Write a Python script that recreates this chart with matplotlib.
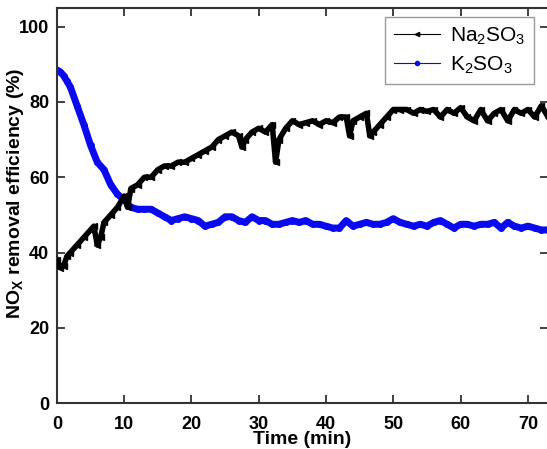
import numpy as np
from matplotlib import pyplot as plt
from matplotlib.lines import Line2D

plt.rcParams['font.family'] = ['Liberation Sans', 'DejaVu Sans']
plt.rcParams['mathtext.fontset'] = 'custom'
plt.rcParams['mathtext.rm'] = 'Liberation Sans'
plt.rcParams['mathtext.bf'] = 'Liberation Sans:bold'

# K2SO3 series (time in min, efficiency in %)
t_k = [0, 0.5, 1, 1.5, 2, 3, 4, 5, 6, 7, 8, 9, 10, 11, 12, 13, 14, 15, 16, 17,
       18, 19, 20, 21, 22, 23, 24, 25, 26, 27, 28, 29, 30, 31, 32, 33, 34, 35,
       36, 37, 38, 39, 40, 41, 42, 43, 44, 45, 46, 47, 48, 49, 50, 51, 52, 53,
       54, 55, 56, 57, 58, 59, 60, 61, 62, 63, 64, 65, 66, 67, 68, 69, 70, 71,
       72, 73]
k2so3 = [88.5, 88, 87, 85.5, 84, 79, 74, 68.5, 64, 62, 58, 55.5, 54, 52, 51.5,
         51.5, 51.5, 50.5, 49.5, 48.5, 49, 49.5, 49, 48.5, 47, 47.5, 48, 49.5,
         49.5, 48.5, 48, 49.5, 48.5, 48.5, 47.5, 47.5, 48, 48.5, 48, 48.5,
         47.5, 47.5, 47, 46.5, 46.5, 48.5, 47, 47.5, 48, 47.5, 47.5, 48, 49,
         48, 47.5, 47, 47.5, 47, 48, 48.5, 47.5, 46.5, 47.5, 47.5, 47, 47.5,
         47.5, 48, 46.5, 48, 47, 46.5, 47, 46.5, 46, 46]

# Na2SO3 series
t_na = [0, 0.5, 1, 1.5, 2, 3, 4, 5, 5.5, 6, 6.5, 7, 8, 9, 10, 10.5, 11, 12,
        13, 14, 15, 16, 17, 18, 19, 20, 21, 22, 23, 24, 25, 26, 27, 27.5, 28,
        29, 30, 31, 32, 32.5, 33, 34, 35, 36, 37, 38, 39, 40, 41, 42, 43, 43.5,
        44, 45, 46, 46.5, 47, 48, 49, 50, 51, 52, 53, 54, 55, 56, 57, 58, 59,
        60, 61, 62, 63, 64, 65, 66, 67, 68, 69, 70, 71, 72, 73]
na2so3 = [38, 36, 36.5, 39, 40, 42, 44, 46, 47, 42, 44, 48, 50, 52, 55, 52,
          57, 58, 60, 60, 62, 63, 63, 64, 64, 65, 66, 67, 68, 70, 71, 72, 71,
          68, 70, 72, 73, 72, 74, 64, 70, 73, 75, 74, 74.5, 75, 74, 75, 74.5,
          76, 76, 71, 75, 76, 77, 71, 72, 74, 76, 78, 78, 78, 77, 78, 77.5,
          78, 76, 78, 77, 78.5, 76, 75, 78, 75, 77, 78, 75, 78, 77, 78, 76,
          79, 76]

labels = [r'Na$_2$SO$_3$', r'K$_2$SO$_3$']

fig = plt.figure(figsize=(5.47, 4.49), dpi=100)
ax = fig.add_axes([0.104, 0.1024, 0.898, 0.88])

ax.plot(t_na, na2so3, color='black', lw=4, marker='<', ms=4, zorder=3)
ax.plot(t_k, k2so3, color='#0a0af0', lw=5, marker='o', ms=4, zorder=2)

ax.set_xlim(0, 73)
ax.set_ylim(0, 105)
ax.set_xticks([0, 10, 20, 30, 40, 50, 60, 70])
ax.set_yticks([0, 20, 40, 60, 80, 100])
ax.tick_params(direction='in', top=True, right=True, length=6, width=1.3,
               labelsize=13, color='#333333')
ax.tick_params(axis='x', pad=9)
ax.tick_params(axis='y', pad=5.5)
for lab in ax.get_xticklabels() + ax.get_yticklabels():
    lab.set_fontweight('bold')
for s in ax.spines.values():
    s.set_linewidth(1.5)
    s.set_color('#333333')

ax.set_xlabel('Time (min)', fontsize=14, fontweight='bold', labelpad=-1)
ax.set_ylabel(r'NO$_\mathbf{X}$ removal efficiency (%)', fontsize=14,
              fontweight='bold')
ax.yaxis.set_label_coords(-0.063, 0.53)

# legend handles with thin lines and small markers
h = [Line2D([], [], color='black', lw=0.8, marker='<', ms=3),
     Line2D([], [], color='#0a0af0', lw=0.8, marker='o', ms=3)]
ax.legend(h, labels, loc='upper right', fontsize=15, fancybox=False,
          edgecolor='#999999', framealpha=1, handlelength=2.2,
          borderpad=0.4, labelspacing=0.35, handletextpad=0.5,
          borderaxespad=0, bbox_to_anchor=(0.971, 0.977))

fig.savefig('out.png', dpi=100)
